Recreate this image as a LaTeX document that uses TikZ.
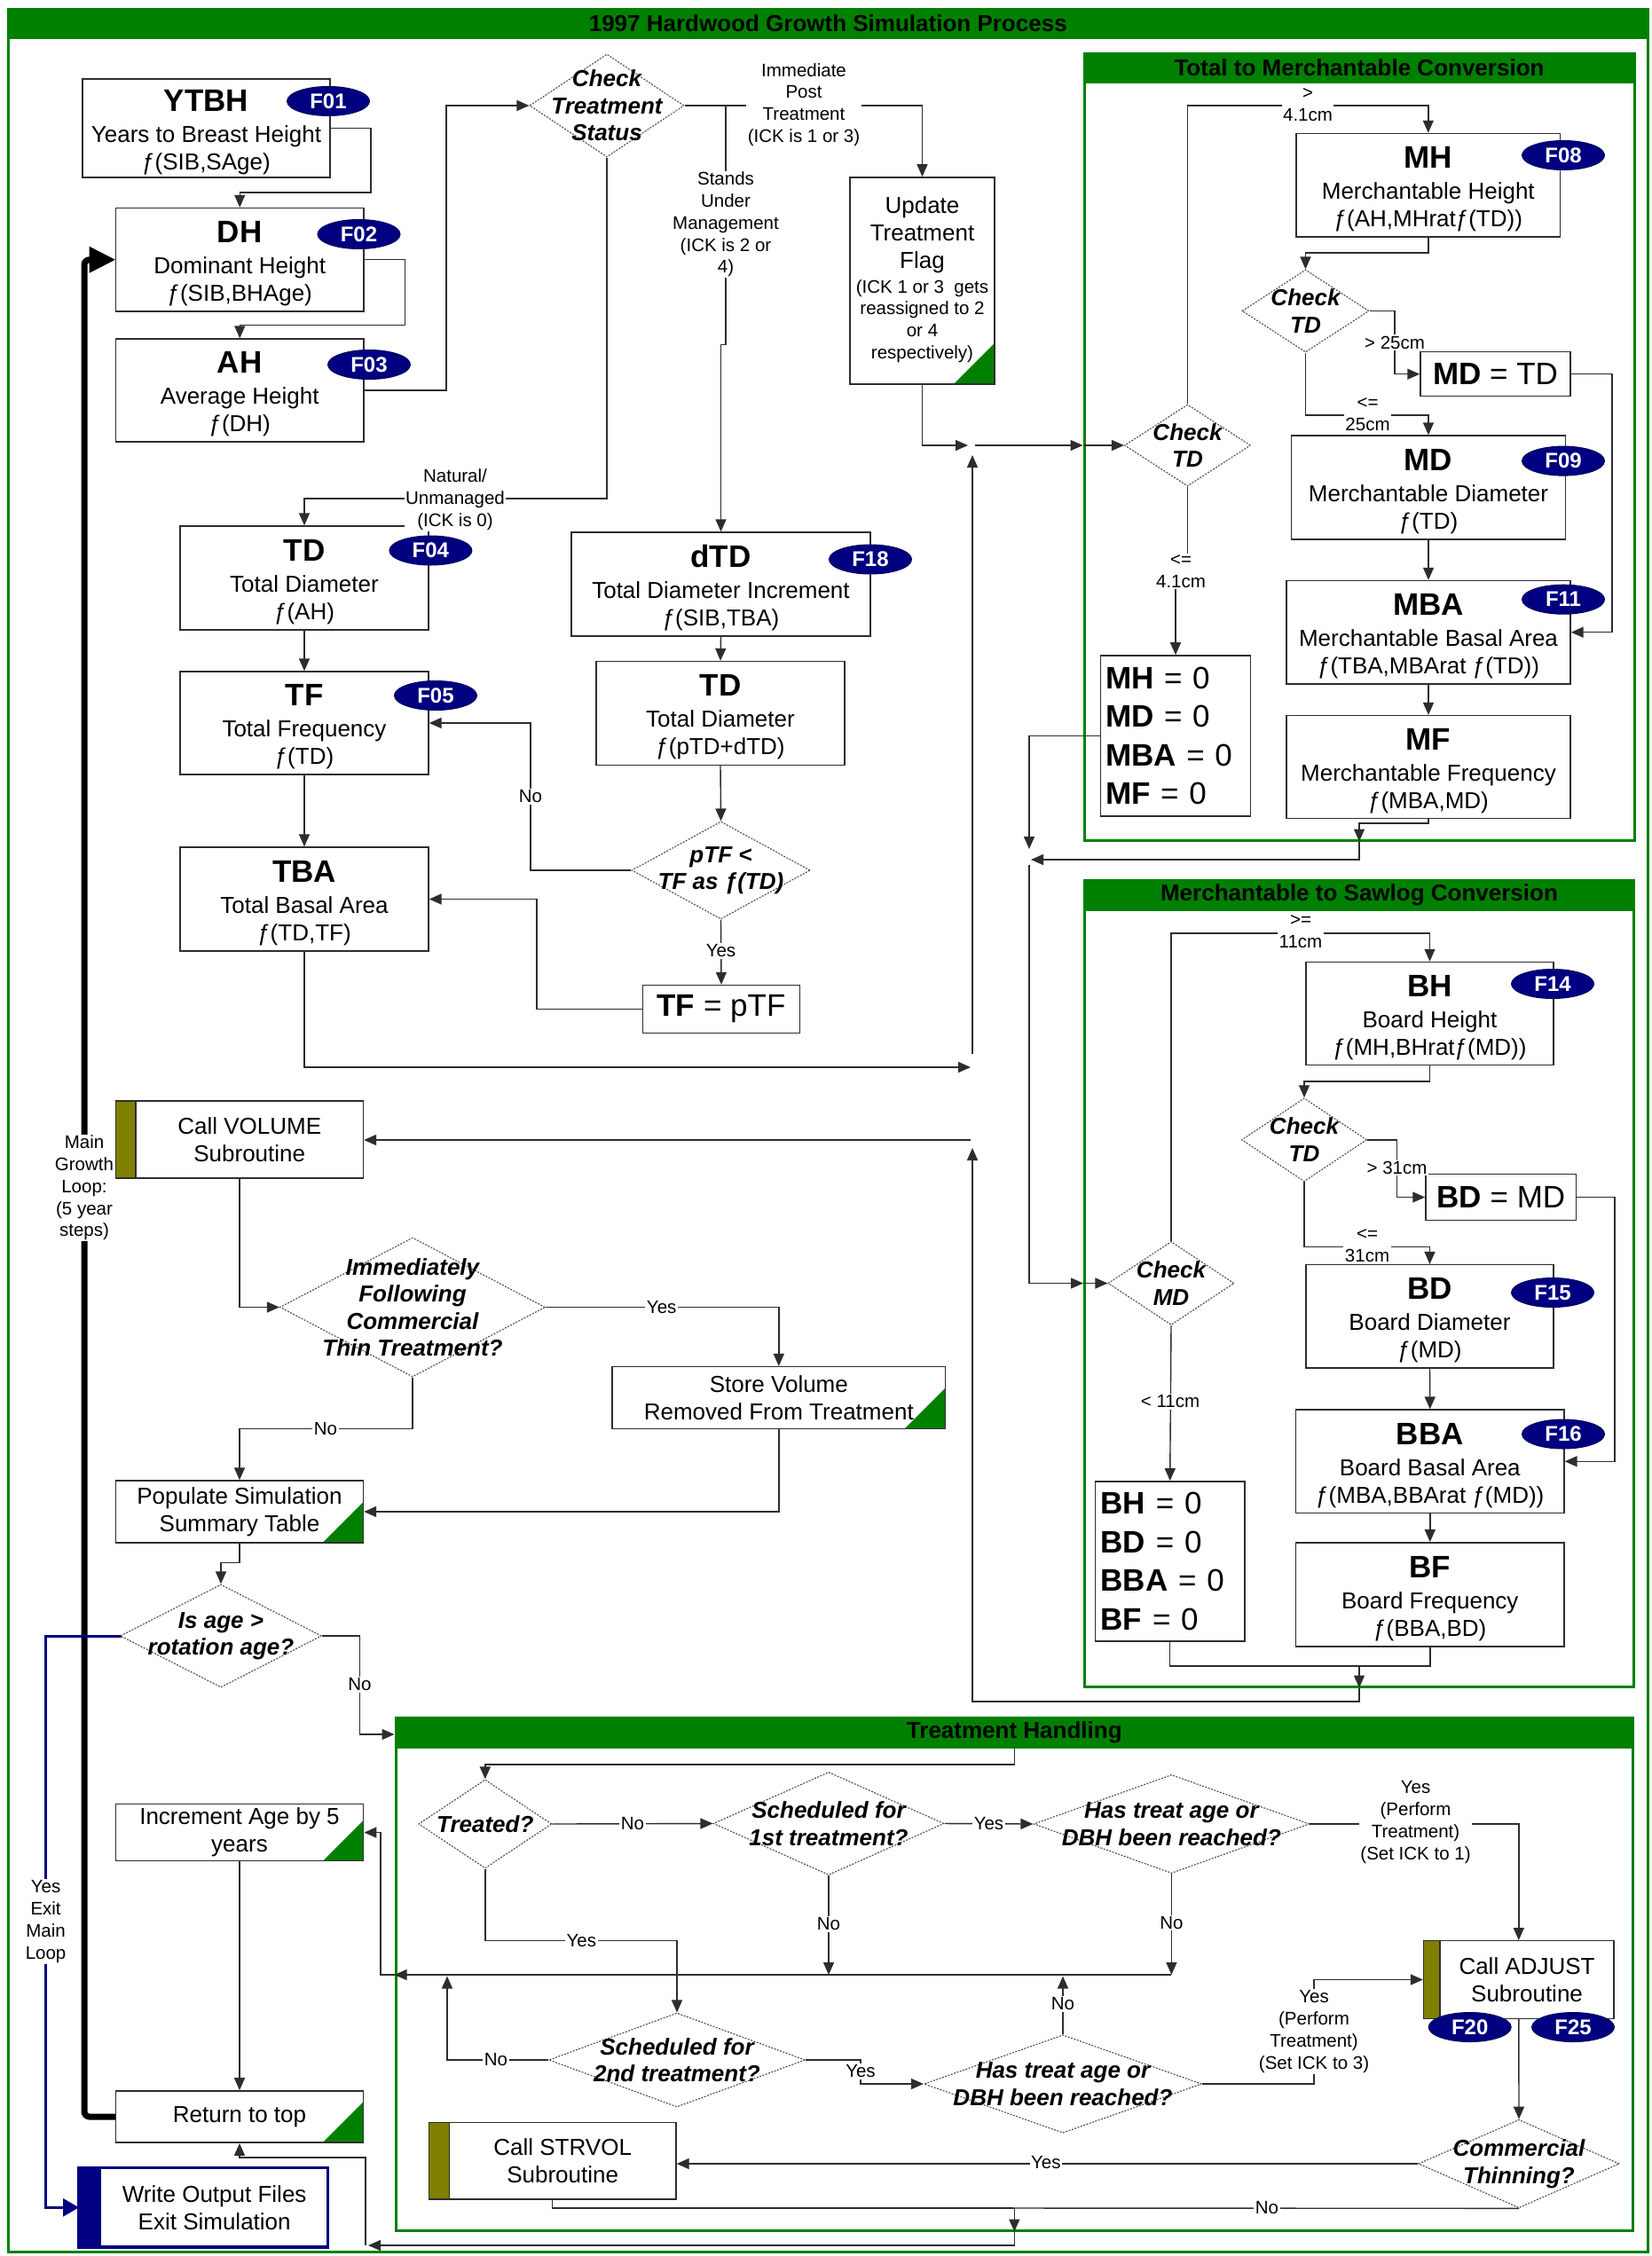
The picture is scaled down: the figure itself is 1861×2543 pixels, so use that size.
\documentclass[tikz,border=0pt]{standalone}
\usepackage{fontspec}
\setmainfont{Liberation Sans}
\usepackage{tikz}
\usetikzlibrary{shapes.geometric,arrows.meta,positioning,calc}
\definecolor{greenFrame}{RGB}{0,128,0}
\definecolor{navyBlue}{RGB}{0,0,128}
\definecolor{oliveBar}{RGB}{128,128,0}
\definecolor{lineGray}{RGB}{45,45,45}
\newcommand{\boxhead}[1]{{\fontsize{35}{40}\selectfont\bfseries\rule{0pt}{33pt}#1}}
\newcommand{\zeroeq}[2]{{\bfseries #1} = #2}

\begin{document}
\begin{tikzpicture}[x=1pt,y=-1pt,font=\fontsize{26}{31}\selectfont,
  box/.style={rectangle,draw=lineGray,line width=1.4pt,fill=white,inner sep=0pt,align=center},
  bx/.style 2 args={box,minimum width=#1pt,minimum height=#2pt},
  doc/.style={path picture={\fill[greenFrame] (path picture bounding box.south east)
              -- ++(0pt,46pt) -- ++(-46pt,-46pt) -- cycle;}},
  sub/.style={path picture={\fill[oliveBar] (path picture bounding box.north west)
              rectangle ([xshift=#1]path picture bounding box.south west);
              \draw[lineGray,line width=1.4pt] ([xshift=#1]path picture bounding box.north west)
              -- ([xshift=#1]path picture bounding box.south west);}},
  exitbox/.style={draw=navyBlue,line width=3.5pt,path picture={\fill[navyBlue]
              (path picture bounding box.north west) rectangle ([xshift=25pt]path picture bounding box.south west);}},
  dd/.style 2 args={diamond,draw=black!70,line width=1.1pt,dash pattern=on 2pt off 1.5pt,
              fill=white,inner sep=0pt,minimum width=#1pt,minimum height=#2pt},
  dtxt/.style={font=\fontsize{26}{30.5}\selectfont\bfseries\itshape,align=center,inner sep=0pt},
  zero/.style={font=\fontsize{35}{43.5}\selectfont,align=left},
  badge/.style={ellipse,fill=navyBlue,draw=navyBlue!70!black,line width=1pt,minimum width=93pt,
              minimum height=33pt,inner sep=0pt,text=white,font=\fontsize{24}{26}\selectfont\bfseries},
  grp/.style={rectangle,draw=greenFrame,line width=3pt,inner sep=0pt},
  bar/.style={rectangle,fill=greenFrame,inner sep=0pt,font=\fontsize{26}{30}\selectfont\bfseries},
  lbl/.style={fill=white,inner sep=1.5pt,align=center,font=\fontsize{20.5}{24.7}\selectfont},
  arr/.style={draw=lineGray,line width=1.4pt,-{Triangle[length=14pt,width=12pt]}},
  ln/.style={draw=lineGray,line width=1.4pt}]

  \useasboundingbox (0,0) rectangle (1861,2543);
  \fill[white] (0,0) rectangle (1861,2543);

  \node[grp,minimum width=1847.5pt,minimum height=2528pt] (frame) at (933.25,1274) {};
  \node[bar,minimum width=1847.5pt,minimum height=35pt,anchor=north] (frameT) at (frame.north)
    {1997 Hardwood Growth Simulation Process};
  \node[grp,minimum width=620pt,minimum height=887pt] (tmc) at (1532,503.5) {};
  \node[bar,minimum width=620pt,minimum height=35pt,anchor=north] (tmcT) at (tmc.north)
    {Total to Merchantable Conversion};
  \node[grp,minimum width=619pt,minimum height=909pt] (msc) at (1532,1446.5) {};
  \node[bar,minimum width=619pt,minimum height=36pt,anchor=north] (mscT) at (msc.north)
    {Merchantable to Sawlog Conversion};
  \node[grp,minimum width=1394.6pt,minimum height=578pt] (thd) at (1143.3,2225) {};
  \node[bar,minimum width=1394.6pt,minimum height=36pt,anchor=north] (thdT) at (thd.north)
    {Treatment Handling};

  \draw[line width=7pt,line cap=round,rounded corners=6pt,-{Triangle[length=30pt,width=28pt]}]
    (130.5,2386) -| (95,292.75) -- (130.5,292.75);
  \draw[navyBlue,line width=3pt,-{Triangle[length=18pt,width=20pt]}]
    (136.5,1844) -| (51.6,2488.3) -- (89,2488.3);

  % growth column
  \node[bx={279}{111}]   (ytbh) at (232.5,144.5) {\boxhead{YTBH}\\[4pt]Years to Breast Height\\ƒ(SIB,SAge)};
  \node[bx={279.5}{116.5}] (dh) at (270.25,292.75) {\boxhead{DH}\\[4pt]Dominant Height\\ƒ(SIB,BHAge)};
  \node[bx={279.5}{116}] (ah)   at (270.25,440) {\boxhead{AH}\\[4pt]Average Height\\ƒ(DH)};
  \node[bx={280}{117}]   (td)   at (343,651.5) {\boxhead{TD}\\[4pt]Total Diameter\\ƒ(AH)};
  \node[bx={280}{116}]   (tf)   at (343,815) {\boxhead{TF}\\[4pt]Total Frequency\\ƒ(TD)};
  \node[bx={280}{117}]   (tba)  at (343,1013.5) {\boxhead{TBA}\\[4pt]Total Basal Area\\ƒ(TD,TF)};
  \node[bx={337}{117}]   (dtd)  at (812.5,658.5) {\boxhead{dTD}\\[4pt]Total Diameter Increment\\ƒ(SIB,TBA)};
  \node[bx={280}{117}]   (tdp)  at (812,804) {\boxhead{TD}\\[4pt]Total Diameter\\ƒ(pTD+dTD)};
  \node[bx={177}{54},zero,align=center] (tfp) at (813,1137.5) {\zeroeq{TF}{pTF}};
  \node[bx={163}{233},doc] (utf) at (1039.5,316.4) {Update\\Treatment\\Flag\\[-3pt]%
    {\fontsize{20.5}{24.7}\selectfont\begin{tabular}[t]{@{}c@{}}(ICK 1 or 3~ gets\\reassigned to 2\\or 4\\respectively)\end{tabular}}};

  \node[dd={174}{116},label={[dtxt]center:{Check\\Treatment\\Status}}] (cts) at (684,119) {};
  \node[dd={201}{110},label={[dtxt]center:{pTF <\\TF as ƒ(TD)}}] (ptf) at (812.5,981) {};

  % total to merchantable
  \node[dd={142}{92},label={[dtxt]center:{Check\\TD}}] (ctdl) at (1338.5,502) {};
  \node[dd={143}{93},label={[dtxt]center:{Check\\TD}}] (ctdr) at (1471.5,350.5) {};
  \node[bx={297.6}{116.5}] (mh)  at (1609.8,208.7) {\boxhead{MH}\\[4pt]Merchantable Height\\ƒ(AH,MHratƒ(TD))};
  \node[bx={169}{50},zero,align=center] (mdtd) at (1685.5,421.7) {\zeroeq{MD}{TD}};
  \node[bx={309}{117}]   (md)  at (1610,549.5) {\boxhead{MD}\\[4pt]Merchantable Diameter\\ƒ(TD)};
  \node[bx={320}{116.5}] (mba) at (1610,712.7) {\boxhead{MBA}\\[4pt]Merchantable Basal Area\\ƒ(TBA,MBArat ƒ(TD))};
  \node[bx={320}{116}]   (mf)  at (1610,864.6) {\boxhead{MF}\\[4pt]Merchantable Frequency\\ƒ(MBA,MD)};
  \node[bx={169}{181},zero,text width=158pt] (mzero) at (1325,829.4)
    {\zeroeq{MH}{0}\\\zeroeq{MD}{0}\\\zeroeq{MBA}{0}\\\zeroeq{MF}{0}};

  % merchantable to sawlog
  \node[dd={142}{94},label={[dtxt]center:{Check\\MD}}] (cmd)  at (1320,1446.5) {};
  \node[dd={141}{94},label={[dtxt]center:{Check\\TD}}] (ctds) at (1470,1284.8) {};
  \node[bx={279}{116.3}] (bh)  at (1611.5,1142.6) {\boxhead{BH}\\[4pt]Board Height\\ƒ(MH,BHratƒ(MD))};
  \node[bx={169.7}{51.5},zero,align=center] (bdmd) at (1691.8,1349.5) {\zeroeq{BD}{MD}};
  \node[bx={279}{116.4}] (bd)  at (1611.5,1483.8) {\boxhead{BD}\\[4pt]Board Diameter\\ƒ(MD)};
  \node[bx={302.3}{116.5}] (bba) at (1611.8,1647.3) {\boxhead{BBA}\\[4pt]Board Basal Area\\ƒ(MBA,BBArat ƒ(MD))};
  \node[bx={302.3}{117}] (bf)  at (1611.8,1797.3) {\boxhead{BF}\\[4pt]Board Frequency\\ƒ(BBA,BD)};
  \node[bx={168.6}{180},zero,text width=156pt] (bzero) at (1318.7,1759.8)
    {\zeroeq{BH}{0}\\\zeroeq{BD}{0}\\\zeroeq{BBA}{0}\\\zeroeq{BF}{0}};

  % volume and summary
  \node[bx={279}{87},sub=22.5pt] (cvol) at (270,1284.5) {\hspace*{22.5pt}Call VOLUME\\\hspace*{22.5pt}Subroutine};
  \node[dd={299}{157},label={[dtxt]center:{Immediately\\Following\\Commercial\\Thin Treatment?}}] (ifct) at (465,1473.5) {};
  \node[bx={375.6}{70},doc] (svrt) at (877.8,1575.6) {Store Volume\\Removed From Treatment};
  \node[bx={279}{70},doc]   (psst) at (270,1704) {Populate Simulation\\Summary Table};
  \node[dd={227}{116},label={[dtxt]center:{Is age >\\rotation age?}}] (isage) at (249,1844) {};
  \node[bx={279.5}{64.3},doc] (incr) at (270,2065.6) {Increment Age by 5\\years};
  \node[bx={279.5}{58.3},doc] (rtt)  at (270,2386) {Return to top};
  \node[bx={280.5}{89.4},exitbox] (wof) at (229.2,2488.3) {\hspace*{25pt}Write Output Files\\\hspace*{25pt}Exit Simulation};

  % treatment handling
  \node[dd={150}{100},label={[dtxt]center:{Treated?}}] (trt) at (546.8,2056) {};
  \node[dd={260}{116},label={[dtxt]center:{Scheduled for\\1st treatment?}}] (s1) at (934,2055.5) {};
  \node[dd={311}{111},label={[dtxt]center:{Has treat age or\\DBH been reached?}}] (h1) at (1320.4,2056) {};
  \node[dd={289}{106},label={[dtxt]center:{Scheduled for\\2nd treatment?}}] (s2) at (763,2322) {};
  \node[dd={313}{110.5},label={[dtxt]center:{Has treat age or\\DBH been reached?}}] (h2) at (1198,2349) {};
  \node[dd={226.5}{99.5},label={[dtxt]center:{Commercial\\Thinning?}}] (ct) at (1712,2439) {};
  \node[bx={214.4}{87.5},sub=18.5pt] (adj)  at (1711.8,2231.5) {\hspace*{18.5pt}Call ADJUST\\\hspace*{18.5pt}Subroutine};
  \node[bx={278.6}{86.5},sub=23pt]   (strv) at (622.7,2435.7) {\hspace*{23pt}Call STRVOL\\\hspace*{23pt}Subroutine};

  \coordinate (jb) at (818,119);
  \coordinate (jm) at (1096,502);
  \coordinate (jt) at (1096,1203);
  \coordinate (jv) at (1096,1285);
  \coordinate (js) at (1160,969);
  \coordinate (ji) at (428.8,2226);
  \coordinate (jh) at (1143.3,2489);
  \coordinate (jr) at (412,2531);

  \foreach \a/\b in {td/tf,tf/tba,dtd/tdp,tdp/ptf,ptf/tfp,md/mba,mba/mf,bd/bba,bba/bf,
                     cmd/bzero,incr/rtt,adj/ct} {
    \draw[arr] (\a.south) -- (\b.north);
  }

  \draw[arr] (ytbh.east) -| (418,217) -| (dh.north);
  \draw[arr] (dh.east) -| (456.7,366.5) -| (ah.north);
  \draw[arr] (ah.east) -| (503,119) -- (cts.west);
  \draw[arr] (cts.south) |- (343,562) -- (td.north);
  \draw[arr] (cts.east) -| (utf.north);
  \draw[arr] (jb) -- (818,388.7) -- (812.5,388.7) -- (dtd.north);
  \draw[arr] (ptf.west) -| (598,815) -- (tf.east);
  \draw[arr] (tfp.west) -| (605,1013.5) -- (tba.east);
  \draw[arr] (tba.south) |- ([xshift=-2pt]jt);
  \draw[arr] ([yshift=15pt]jt) -- ([yshift=-11pt]jm);
  \draw[arr] (utf.south) |- ([xshift=-5pt]jm);
  \draw[arr] ([xshift=3pt]jm) -- (tmc.west |- jm);
  \draw[arr] (tmc.west |- jm) -- (ctdl.west);

  \draw[arr] (ctdl.north) |- (1609.8,119) -- (mh.north);
  \draw[arr] (mh.south) -- (1609.8,285) -| (ctdr.north);
  \draw[arr] (ctdr.east) -| (1572,421.7) -- (mdtd.west);
  \draw[arr] (mdtd.east) -| (1817,712.7) -- (mba.east);
  \draw[arr] (ctdr.south) |- (1610,468) -- (md.north);
  \draw[arr] (ctdl.south) -- (1338.5,644) -- (1325,644) -- (mzero.north);
  \draw[arr] (mf.south) -- (1610,928) -| (tmc.south);
  \draw[arr] (tmc.south) |- ([xshift=2pt]js);
  \draw[arr] (mzero.west) -| ([yshift=12pt]js);
  \draw[arr] ([yshift=-6pt]js) |- (msc.west |- cmd);
  \draw[arr] (msc.west |- cmd) -- (cmd.west);

  \draw[arr] (cmd.north) |- (1611.5,1052) -- (bh.north);
  \draw[arr] (bh.south) -- (1611.5,1219) -| (ctds.north);
  \draw[arr] (ctds.east) -| (1574.5,1349.5) -- (bdmd.west);
  \draw[arr] (bdmd.east) -| (1820,1647.3) -- (bba.east);
  \draw[arr] (ctds.south) |- (1611.5,1405.6) -- (bd.north);
  \draw[arr] (bf.south) -- (1611.8,1878) -| (msc.south);
  \draw[ln]  (bzero.south) |- (1532,1878);
  \draw[arr] (msc.south) -- (1532,1918) -| ([yshift=-9pt]jv);
  \draw[arr] ([xshift=-2pt]jv) -- (cvol.east |- jv);

  \draw[arr] (cvol.south) |- (ifct.west);
  \draw[arr] (ifct.east) -| (svrt.north);
  \draw[arr] (svrt.south) |- (psst.east);
  \draw[arr] (ifct.south) |- (270,1610.7) -- (psst.north);
  \draw[arr] (psst.south) |- (249,1761.6) -- (isage.north);
  \draw[arr] (isage.east) -| (405.5,1955) -- (thd.west |- 0,1955);

  \draw[arr] (thdT.south) |- (546.8,1989) -- (trt.north);
  \draw[arr] (trt.east) -- (s1.west);
  \draw[arr] (s1.east) -- (h1.west);
  \draw[arr] (s1.south) -- (s1.south |- ji);
  \draw[arr] (h1.south) -- (h1.south |- ji);
  \draw[arr] (h1.south |- ji) -- (thd.west |- ji);
  \draw[arr] (thd.west |- ji) -- (ji) |- (incr.east);
  \draw[arr] (h1.east) -| (adj.north);
  \draw[arr] (trt.south) |- (763,2187.4) -- (s2.north);
  \draw[arr] (s2.west) -| (504,2227.5);
  \draw[arr] (s2.east) -| (970,2349) -- (h2.west);
  \draw[arr] (h2.north) -- (h2.north |- 0,2227.5);
  \draw[arr] (h2.east) -| (1481,2231.5) -- (adj.west);
  \draw[arr] (ct.west) -- (strv.east |- ct.west);
  \draw[ln]  (ct.south) -- (jh);
  \draw[ln]  (strv.south) |- (jh);
  \draw[arr] (jh) -- (thd.south);
  \draw[arr] (thd.south) |- ([xshift=3pt]jr);
  \draw[arr] (jr) |- (270,2432) -- (rtt.south);

  \node[lbl] (lNat)  at (513,563)     {Natural/\\Unmanaged\\(ICK is 0)};
  \node[lbl] (lIpt)  at (906,118)     {Immediate\\Post\\Treatment\\(ICK is 1 or 3)};
  \node[lbl] (lSum)  at (818,253)     {Stands\\Under\\Management\\(ICK is 2 or\\4)};
  \node[lbl] (lNo1)  at (598,898)     {No};
  \node[lbl] (lYes1) at (812.5,1072)  {Yes};
  \node[lbl] (lGt41) at (1474,118)    {>\\4.1cm};
  \node[lbl] (lGt25) at (1572,386)    {> 25cm};
  \node[lbl] (lLe25) at (1541.5,467)  {<=\\25cm};
  \node[lbl] (lLe41) at (1331,644)    {<=\\4.1cm};
  \node[lbl] (lGe11) at (1466,1050)   {>=\\11cm};
  \node[lbl] (lGt31) at (1574.5,1316.5) {> 31cm};
  \node[lbl] (lLe31) at (1541,1404)   {<=\\31cm};
  \node[lbl] (lLt11) at (1319,1580)   {< 11cm};
  \node[lbl,inner xsep=0pt] (lLoop) at (95,1339) {Main\\Growth\\Loop:\\(5 year\\steps)};
  \node[lbl] (lYes2) at (745.7,1473.5) {Yes};
  \node[lbl] (lNo2)  at (367,1610.7)  {No};
  \node[lbl] (lNo3)  at (405.5,1899)  {No};
  \node[lbl] (lExit) at (51.6,2166)   {Yes\\Exit\\Main\\Loop};
  \node[lbl] (lNo4)  at (713,2056)    {No};
  \node[lbl] (lYes3) at (1114.5,2056) {Yes};
  \node[lbl] (lNo5)  at (934,2169)    {No};
  \node[lbl] (lNo6)  at (1320.4,2167.5) {No};
  \node[lbl] (lYes4) at (1595.5,2054) {Yes\\(Perform\\Treatment)\\(Set ICK to 1)};
  \node[lbl] (lYes5) at (655.4,2187.4) {Yes};
  \node[lbl] (lNo7)  at (559,2322)    {No};
  \node[lbl] (lYes6) at (970,2335)    {Yes};
  \node[lbl] (lNo8)  at (1198,2259)   {No};
  \node[lbl] (lYes7) at (1481,2290)   {Yes\\(Perform\\Treatment)\\(Set ICK to 3)};
  \node[lbl] (lYes8) at (1178.8,2438) {Yes};
  \node[lbl] (lNo9)  at (1428,2489)   {No};

  \foreach \t/\x/\y in {01/370/114,02/404.5/264,03/416/411,04/485.4/620.5,05/491/784,
                        18/981/630.5,08/1762/175,09/1762/519.6,11/1762/675.7,14/1750/1109,
                        15/1750/1457,16/1762/1616.5,20/1656.7/2285,25/1773/2285} {
    \node[badge] (f\t) at (\x,\y) {F\t};
  }
\end{tikzpicture}
\end{document}
